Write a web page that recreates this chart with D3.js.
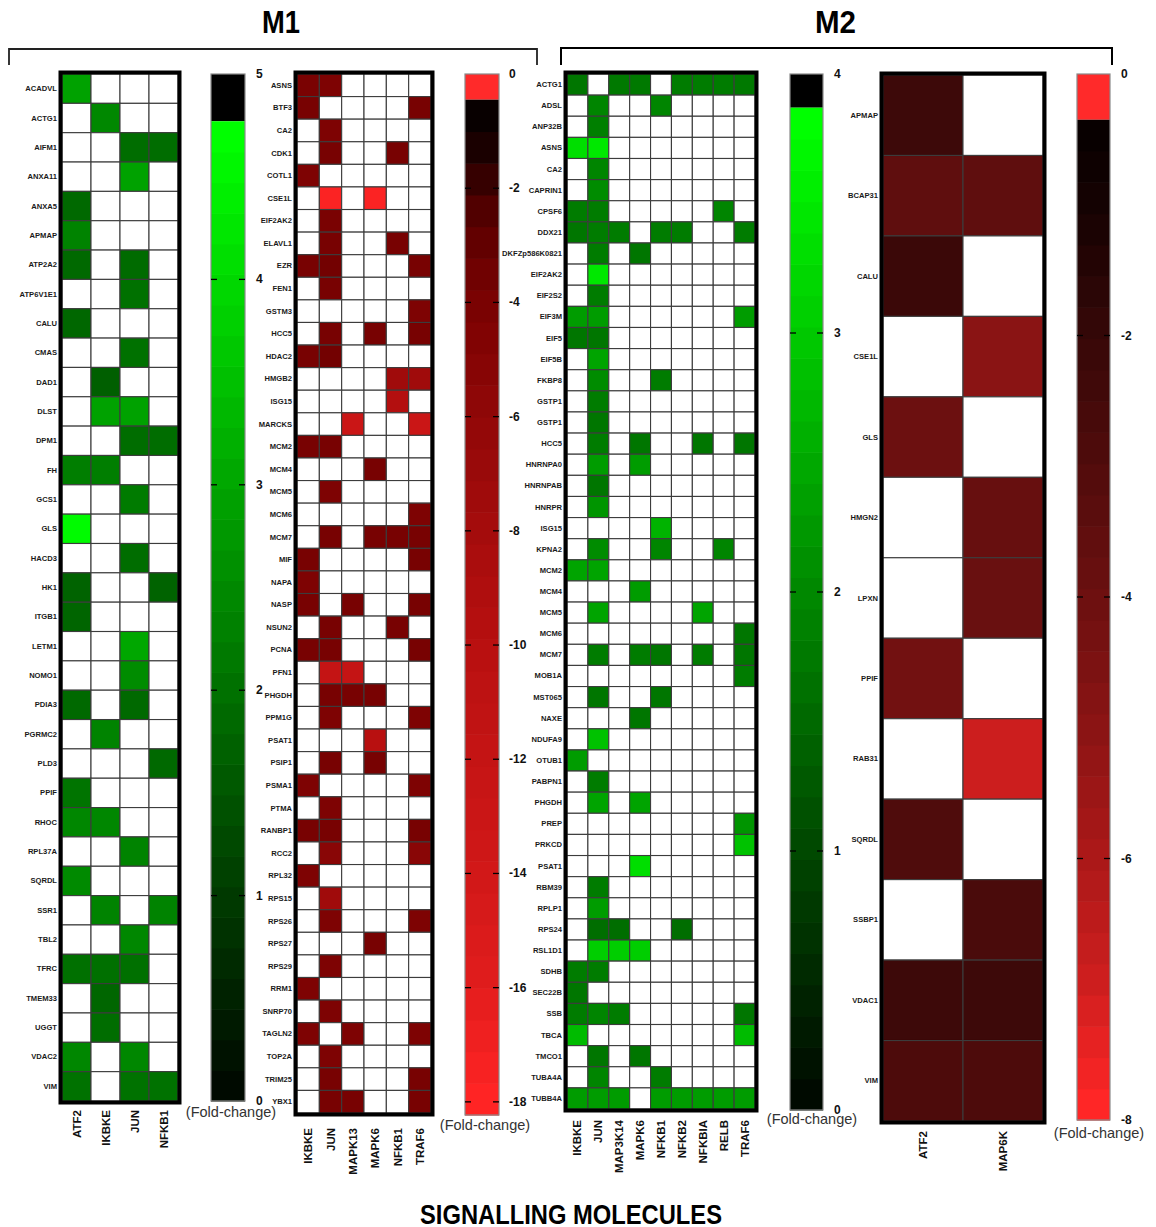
<!DOCTYPE html>
<html><head><meta charset="utf-8">
<script src="https://cdn.jsdelivr.net/npm/d3@7"></script>
<style>
html,body{margin:0;padding:0;background:#fff;}
svg{display:block;font-family:"Liberation Sans",Arial,sans-serif;}
</style></head><body>
<script>
// ---------- M1: up-regulated proteins (fold-change) ----------
const m1UpMolecules = ["ATF2", "IKBKE", "JUN", "NFKB1"];
const m1UpProteins = ["ACADVL","ACTG1","AIFM1","ANXA11","ANXA5","APMAP","ATP2A2","ATP6V1E1","CALU","CMAS",
  "DAD1","DLST","DPM1","FH","GCS1","GLS","HACD3","HK1","ITGB1","LETM1","NOMO1","PDIA3","PGRMC2","PLD3",
  "PPIF","RHOC","RPL37A","SQRDL","SSR1","TBL2","TFRC","TMEM33","UGGT","VDAC2","VIM"];
const m1UpValues = [
  [2.95, null, null, null], [null, 2.45, null, null], [null, null, 1.92, 1.92], [null, null, 2.95, null],
  [1.85, null, null, null], [2.36, null, null, null], [1.85, null, 1.88, null], [null, null, 2.0, null],
  [1.82, null, null, null], [null, null, 2.0, null], [null, 1.66, null, null], [null, 2.95, 2.95, null],
  [null, null, 1.92, 1.92], [2.25, 2.25, null, null], [null, null, 2.2, null], [4.7, null, null, null],
  [null, null, 1.92, null], [1.73, null, null, 1.73], [1.77, null, null, null], [null, null, 3.05, null],
  [null, null, 2.54, null], [1.85, null, 1.85, null], [null, 2.36, null, null], [null, null, null, 1.84],
  [2.06, null, null, null], [2.43, 2.43, null, null], [null, null, 2.36, null], [2.5, null, null, null],
  [null, 2.36, null, 2.36], [null, null, 2.43, null], [1.99, 1.99, 1.99, null], [null, 1.8, null, null],
  [null, 1.92, null, null], [2.43, null, 2.43, null], [2.03, null, 2.03, 2.03]
];
const m1UpScaleTicks = [0, 1, 2, 3, 4, 5];

// ---------- M1: down-regulated proteins (fold-change) ----------
const m1DownMolecules = ["IKBKE", "JUN", "MAPK13", "MAPK6", "NFKB1", "TRAF6"];
const m1DownProteins = ["ASNS","BTF3","CA2","CDK1","COTL1","CSE1L","EIF2AK2","ELAVL1","EZR","FEN1","GSTM3",
  "HCC5","HDAC2","HMGB2","ISG15","MARCKS","MCM2","MCM4","MCM5","MCM6","MCM7","MIF","NAPA","NASP","NSUN2",
  "PCNA","PFN1","PHGDH","PPM1G","PSAT1","PSIP1","PSMA1","PTMA","RANBP1","RCC2","RPL32","RPS15","RPS26",
  "RPS27","RPS29","RRM1","SNRP70","TAGLN2","TOP2A","TRIM25","YBX1"];
const m1DownValues = [
  [-3.9, -4.2, null, null, null, null], [-3.8, null, null, null, null, -3.8],
  [null, -4.2, null, null, null, null], [null, -3.8, null, null, -3.8, null],
  [-4.2, null, null, null, null, null], [null, -17.9, null, -17.9, null, null],
  [null, -3.9, null, null, null, null], [null, -3.8, null, null, -3.8, null],
  [-3.8, -3.5, null, null, null, -3.8], [null, -3.8, null, null, null, null],
  [null, null, null, null, null, -4.2], [null, -3.8, null, -3.8, null, -3.8],
  [-3.8, -3.5, null, null, null, null], [null, null, null, null, -7.5, -7.5],
  [null, null, null, null, -9.5, null], [null, null, -13, null, null, -13],
  [-3.8, -3.8, null, null, null, null], [null, null, null, -3.8, null, null],
  [null, -4.2, null, null, null, null], [null, null, null, null, null, -4.2],
  [null, -3.8, null, -3.8, -3.8, -3.8], [-3.8, null, null, null, null, -3.8],
  [-4.2, null, null, null, null, null], [-3.8, null, -3.8, null, null, -3.8],
  [null, -3.8, null, null, -3.8, null], [-3.8, -3.8, null, null, null, -3.8],
  [null, -12, -12, null, null, null], [null, -3.8, -3.8, -3.8, null, null],
  [null, -4.2, null, null, null, -4.2], [null, null, null, -10, null, null],
  [null, -3.8, null, -3.8, null, null], [-4.2, null, null, null, null, -4.2],
  [null, -4.2, null, null, null, null], [-3.8, -3.8, null, null, null, -3.8],
  [null, -5.2, null, null, null, -5.2], [-4.2, null, null, null, null, null],
  [null, -7.5, null, null, null, null], [null, -4.2, null, null, null, -4.2],
  [null, null, null, -3.8, null, null], [null, -4.2, null, null, null, null],
  [-4.2, null, null, null, null, null], [null, -4.2, null, null, null, null],
  [-4.2, null, -4.2, null, null, -4.2], [null, -4.2, null, null, null, null],
  [null, -3.8, null, null, null, -3.8], [null, -3.8, -3.8, null, null, -3.8]
];
const m1DownScaleTicks = [0, -2, -4, -6, -8, -10, -12, -14, -16, -18];

// ---------- M2: up-regulated proteins (fold-change) ----------
const m2UpMolecules = ["IKBKE", "JUN", "MAP3K14", "MAPK6", "NFKB1", "NFKB2", "NFKBIA", "RELB", "TRAF6"];
const m2UpProteins = ["ACTG1","ADSL","ANP32B","ASNS","CA2","CAPRIN1","CPSF6","DDX21","DKFZp586K0821",
  "EIF2AK2","EIF2S2","EIF3M","EIF5","EIF5B","FKBP8","GSTP1","GSTP1","HCC5","HNRNPA0","HNRNPAB","HNRPR",
  "ISG15","KPNA2","MCM2","MCM4","MCM5","MCM6","MCM7","MOB1A","MST065","NAXE","NDUFA9","OTUB1","PABPN1",
  "PHGDH","PREP","PRKCD","PSAT1","RBM39","RPLP1","RPS24","RSL1D1","SDHB","SEC22B","SSB","TBCA","TMCO1",
  "TUBA4A","TUBB4A"];
const m2UpValues = [
  [1.7, null, 1.75, 1.75, null, 1.8, 1.8, 1.8, 1.75],
  [null, 1.94, null, null, 1.94, null, null, null, null],
  [null, 1.85, null, null, null, null, null, null, null],
  [3.35, 3.5, null, null, null, null, null, null, null],
  [null, 1.94, null, null, null, null, null, null, null],
  [null, 2.06, null, null, null, null, null, null, null],
  [1.8, 1.8, null, null, null, null, null, 1.94, null],
  [1.7, 1.8, 1.8, null, 1.8, 1.8, null, null, 1.8],
  [null, 1.8, null, 1.7, null, null, null, null, null],
  [null, 3.5, null, null, null, null, null, null, null],
  [null, 1.8, null, null, null, null, null, null, null],
  [2.31, 2.31, null, null, null, null, null, null, 2.31],
  [1.7, 1.7, null, null, null, null, null, null, null],
  [null, 2.43, null, null, null, null, null, null, null],
  [null, 2.06, null, null, 1.8, null, null, null, null],
  [null, 1.8, null, null, null, null, null, null, null],
  [null, 1.7, null, null, null, null, null, null, null],
  [null, 1.8, null, 1.7, null, null, 1.7, null, 1.7],
  [null, 2.31, null, 2.31, null, null, null, null, null],
  [null, 1.7, null, null, null, null, null, null, null],
  [null, 2.19, null, null, null, null, null, null, null],
  [null, null, null, null, 2.67, null, null, null, null],
  [null, 2.06, null, null, 1.94, null, null, 1.94, null],
  [2.43, 2.43, null, null, null, null, null, null, null],
  [null, null, null, 2.31, null, null, null, null, null],
  [null, 2.43, null, null, null, null, 2.43, null, null],
  [null, null, null, null, null, null, null, null, 1.7],
  [null, 1.8, null, 1.8, 1.7, null, 1.8, null, 1.7],
  [null, null, null, null, null, null, null, null, 1.8],
  [null, 1.7, null, null, 1.7, null, null, null, null],
  [null, null, null, 1.7, null, null, null, null, null],
  [null, 2.91, null, null, null, null, null, null, null],
  [2.31, null, null, null, null, null, null, null, null],
  [null, 1.8, null, null, null, null, null, null, null],
  [null, 2.43, null, 2.43, null, null, null, null, null],
  [null, null, null, null, null, null, null, null, 2.19],
  [null, null, null, null, null, null, null, null, 2.91],
  [null, null, null, 3.35, null, null, null, null, null],
  [null, 1.8, null, null, null, null, null, null, null],
  [null, 2.31, null, null, null, null, null, null, null],
  [null, 1.58, 1.58, null, null, 1.58, null, null, null],
  [null, 3.1, 3.1, 3.1, null, null, null, null, null],
  [1.8, 1.8, null, null, null, null, null, null, null],
  [1.7, null, null, null, null, null, null, null, null],
  [1.8, 1.94, 1.8, null, null, null, null, null, 1.7],
  [2.79, null, null, null, null, null, null, null, 2.79],
  [null, 1.7, null, 1.7, null, null, null, null, null],
  [null, 1.94, null, null, 1.8, null, null, null, null],
  [2.31, 2.31, 2.31, null, 2.31, 2.31, 2.31, 2.31, 2.31]
];
const m2UpScaleTicks = [0, 1, 2, 3, 4];

// ---------- M2: down-regulated proteins (fold-change) ----------
const m2DownMolecules = ["ATF2", "MAP6K"];
const m2DownProteins = ["APMAP","BCAP31","CALU","CSE1L","GLS","HMGN2","LPXN","PPIF","RAB31","SQRDL","SSBP1","VDAC1","VIM"];
const m2DownValues = [
  [-2.2, null], [-3.5, -3.5], [-2.1, null], [null, -5.0], [-4.0, null], [null, -3.8], [null, -3.9],
  [-4.2, null], [null, -7.0], [-2.9, null], [null, -2.7], [-2.2, -2.2], [-2.8, -2.8]
];
const m2DownScaleTicks = [0, -2, -4, -6, -8];

// ---------- colour scales ----------
const greenM1 = d3.scaleLinear().domain([0, 4.77]).range(["#000a00", "#00ff00"]).clamp(true);
const greenM2 = d3.scaleLinear().domain([0, 3.87]).range(["#000a00", "#00ff00"]).clamp(true);
const redM1 = d3.scaleLinear()
  .domain([-18.2, -16, -14, -12, -10, -8, -6, -4, -3, -2, -1.2, -0.45])
  .range(["#ff2424", "#e01c1c", "#d01818", "#c41414", "#b81010", "#a50c0c", "#920808", "#7c0202",
          "#6a0000", "#4c0000", "#200000", "#080000"]).clamp(true);
const redM2 = d3.scaleLinear()
  .domain([-8, -7, -6, -5, -4, -3, -2, -1, -0.35])
  .range(["#ff2626", "#cc1e1e", "#aa1818", "#8a1414", "#6c1010", "#520c0c", "#380808", "#180202", "#080000"]).clamp(true);

const W = 1156, H = 1227;
const svg = d3.select("body").append("svg").attr("width", W).attr("height", H);

function drawHeatmap(o) {
  const g = svg.append("g");
  const x = d3.scaleBand().domain(o.molecules).range([o.left, o.right]);
  const y = d3.scaleBand().domain(d3.range(o.proteins.length)).range([o.top, o.bottom]);
  const cells = [];
  o.values.forEach((row, i) => row.forEach((v, j) => cells.push({ i, j, v })));
  g.selectAll("rect.cell").data(cells).join("rect").attr("class", "cell")
    .attr("x", d => x(o.molecules[d.j])).attr("y", d => y(d.i))
    .attr("width", x.bandwidth()).attr("height", y.bandwidth())
    .attr("fill", d => d.v == null ? "#ffffff" : o.color(d.v))
    .attr("stroke", "#3c3c3c").attr("stroke-width", 1.1);
  g.append("rect")
    .attr("x", o.left - 1.5).attr("y", o.top - 1.5)
    .attr("width", o.right - o.left + 3).attr("height", o.bottom - o.top + 3)
    .attr("fill", "none").attr("stroke", "#000").attr("stroke-width", 4);
  // protein names
  g.selectAll("text.row").data(o.proteins).join("text").attr("class", "row")
    .attr("x", o.left - 5).attr("y", (d, i) => y(i) + y.bandwidth() / 2)
    .attr("text-anchor", "end").attr("dominant-baseline", "central")
    .attr("font-size", 7.6).attr("font-weight", "bold").attr("fill", "#1a1a1a")
    .text(d => d);
  // signalling molecule names
  const ly = o.bottom + o.labelGap;
  g.selectAll("text.col").data(o.molecules).join("text").attr("class", "col")
    .attr("transform", d => `translate(${x(d) + x.bandwidth() / 2},${ly}) rotate(-90)`)
    .attr("text-anchor", "end").attr("dominant-baseline", "central")
    .attr("font-size", 11.5).attr("font-weight", "bold").attr("fill", "#111")
    .text(d => d);
}

function drawColorbar(o) {
  const g = svg.append("g");
  const y = d3.scaleLinear().domain(o.extent).range([o.bottom, o.top]);
  // region past the end of the gradient
  g.append("rect").attr("x", o.x).attr("width", o.width)
    .attr("y", y(o.extent[1])).attr("height", y(o.cut) - y(o.extent[1]))
    .attr("fill", o.beyond);
  const n = 32;
  const lo = o.extent[0];
  const bands = d3.range(n).map(k => ({
    a: lo + (o.cut - lo) * k / n,
    b: lo + (o.cut - lo) * (k + 1) / n,
    v: lo + (o.cut - lo) * k / (n - 1)
  }));
  g.selectAll("rect.band").data(bands).join("rect").attr("class", "band")
    .attr("x", o.x).attr("width", o.width)
    .attr("y", d => y(d.b)).attr("height", d => y(d.a) - y(d.b) + 0.6)
    .attr("fill", d => o.color(d.v));
  g.append("rect").attr("x", o.x).attr("y", o.top).attr("width", o.width).attr("height", o.bottom - o.top)
    .attr("fill", "none").attr("stroke", "#8a8a8a").attr("stroke-width", 1.2);
  const ticks = g.selectAll("g.tick").data(o.ticks).join("g").attr("class", "tick")
    .attr("transform", d => `translate(0,${y(d)})`);
  // inner tick dashes on both edges, skipped where the tick sits on the bar's end
  ticks.filter(d => y(d) > o.top + 2 && y(d) < o.bottom - 2)
    .each(function () {
      const t = d3.select(this);
      t.append("line").attr("x1", o.x).attr("x2", o.x + 6).attr("stroke", "#000").attr("stroke-width", 1.3);
      t.append("line").attr("x1", o.x + o.width - 6).attr("x2", o.x + o.width).attr("stroke", "#000").attr("stroke-width", 1.3);
    });
  ticks.append("text").attr("x", o.x + o.width + o.labelGap).attr("dominant-baseline", "central")
    .attr("font-size", 12).attr("font-weight", "bold").attr("fill", "#111")
    .text(d => d);
  svg.append("text").attr("x", o.captionX).attr("y", o.captionY).attr("text-anchor", "middle")
    .attr("font-size", 14.5).attr("fill", "#333").text("(Fold-change)");
}

// heat maps
drawHeatmap({ molecules: m1UpMolecules, proteins: m1UpProteins, values: m1UpValues, color: greenM1,
  left: 62, right: 178, top: 74, bottom: 1101, labelGap: 9 });
drawHeatmap({ molecules: m1DownMolecules, proteins: m1DownProteins, values: m1DownValues, color: redM1,
  left: 297, right: 431, top: 74, bottom: 1113, labelGap: 15 });
drawHeatmap({ molecules: m2UpMolecules, proteins: m2UpProteins, values: m2UpValues, color: greenM2,
  left: 567, right: 755, top: 74, bottom: 1109, labelGap: 11 });
drawHeatmap({ molecules: m2DownMolecules, proteins: m2DownProteins, values: m2DownValues, color: redM2,
  left: 883, right: 1043, top: 75, bottom: 1121, labelGap: 10 });

// colour keys
drawColorbar({ x: 211, width: 34, top: 74, bottom: 1101, extent: [0, 5], cut: 4.77, beyond: "#000000",
  color: greenM1, ticks: m1UpScaleTicks, labelGap: 11, captionX: 231, captionY: 1117 });
drawColorbar({ x: 465, width: 34, top: 74, bottom: 1115, extent: [-18.23, 0], cut: -0.45, beyond: "#ff2a2a",
  color: redM1, ticks: m1DownScaleTicks, labelGap: 10, captionX: 485, captionY: 1130 });
drawColorbar({ x: 790, width: 33, top: 74, bottom: 1110, extent: [0, 4], cut: 3.87, beyond: "#000000",
  color: greenM2, ticks: m2UpScaleTicks, labelGap: 11, captionX: 812, captionY: 1124 });
drawColorbar({ x: 1077, width: 33, top: 74, bottom: 1120, extent: [-8, 0], cut: -0.35, beyond: "#ff2a2a",
  color: redM2, ticks: m2DownScaleTicks, labelGap: 11, captionX: 1099, captionY: 1138 });

// group brackets and titles
svg.append("path").attr("d", "M9,65V49H537V65").attr("fill", "none").attr("stroke", "#222").attr("stroke-width", 1.8);
svg.append("path").attr("d", "M561,65V48H1112V65").attr("fill", "none").attr("stroke", "#000").attr("stroke-width", 2);
svg.append("text").attr("x", 262).attr("y", 33)
  .attr("font-weight", "bold").attr("font-size", 32)
  .attr("textLength", 38).attr("lengthAdjust", "spacingAndGlyphs").text("M1");
svg.append("text").attr("x", 815).attr("y", 33)
  .attr("font-weight", "bold").attr("font-size", 32)
  .attr("textLength", 41).attr("lengthAdjust", "spacingAndGlyphs").text("M2");
svg.append("text").attr("x", 420).attr("y", 1224)
  .attr("font-weight", "bold").attr("font-size", 27)
  .attr("textLength", 302).attr("lengthAdjust", "spacingAndGlyphs").text("SIGNALLING MOLECULES");
</script>
</body></html>
